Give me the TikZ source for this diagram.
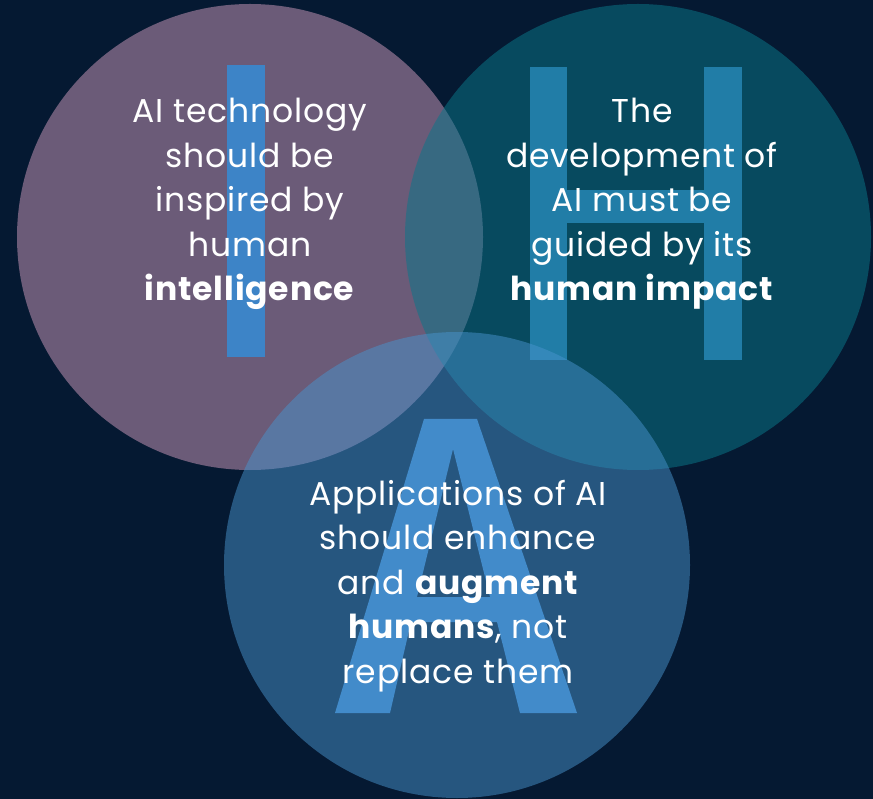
\documentclass[tikz,border=0pt]{standalone}
\usepackage{fontspec}
\setmainfont{Poppins}[LetterSpace=2.5]
\definecolor{navybg}{RGB}{5,25,50}
\definecolor{mauve}{RGB}{107,91,120}
\definecolor{tealc}{RGB}{9,119,138}
\definecolor{letterblue}{RGB}{61,132,199}
\definecolor{skyc}{RGB}{72,147,205}

\begin{document}
\begin{tikzpicture}[x=1pt,y=-1pt]
	\tikzstyle{every node}+=[inner sep=0pt]
	\tikzstyle{blurb}=[text=white, align=center, font=\fontsize{33}{44.5}\selectfont]
	\fill [navybg] (0,0) rectangle (873,799);
	\useasboundingbox (0,0) rectangle (873,799);
	% left circle, the I on top
	\fill [mauve] (250,237) circle (233pt);
	\fill [letterblue] (227,65) rectangle (265,357);
	% the H sits under the teal circle
	\fill [letterblue] (530,67) rectangle (567,360);
	\fill [letterblue] (704,67) rectangle (742,360);
	\fill [letterblue] (567,190) rectangle (704,223);
	\fill [tealc, opacity=0.52] (638,237) circle (233pt);
	% the A sits under the bottom circle
	\fill [letterblue, even odd rule] (335,713) -- (424,419) -- (477,419) -- (577,713) -- (520,713) -- (497,622) -- (411,622) -- (390,713) -- cycle
		(453,449) -- (490,597) -- (417,597) -- cycle;
	\fill [skyc, opacity=0.5] (457,565) circle (233pt);
	% texts
	\node [blurb] (intel) at (250,204) {AI technology\\should be\\inspired by\\human\\\textbf{intelligence}};
	\node [blurb] (impact) at (642,204) {The\\development of\\AI must be\\guided by its\\\textbf{human impact}};
	\node [blurb] (augment) at (458,586) {Applications of AI\\should enhance\\and \textbf{augment}\\\textbf{humans}, not\\replace them};
\end{tikzpicture}
\end{document}
